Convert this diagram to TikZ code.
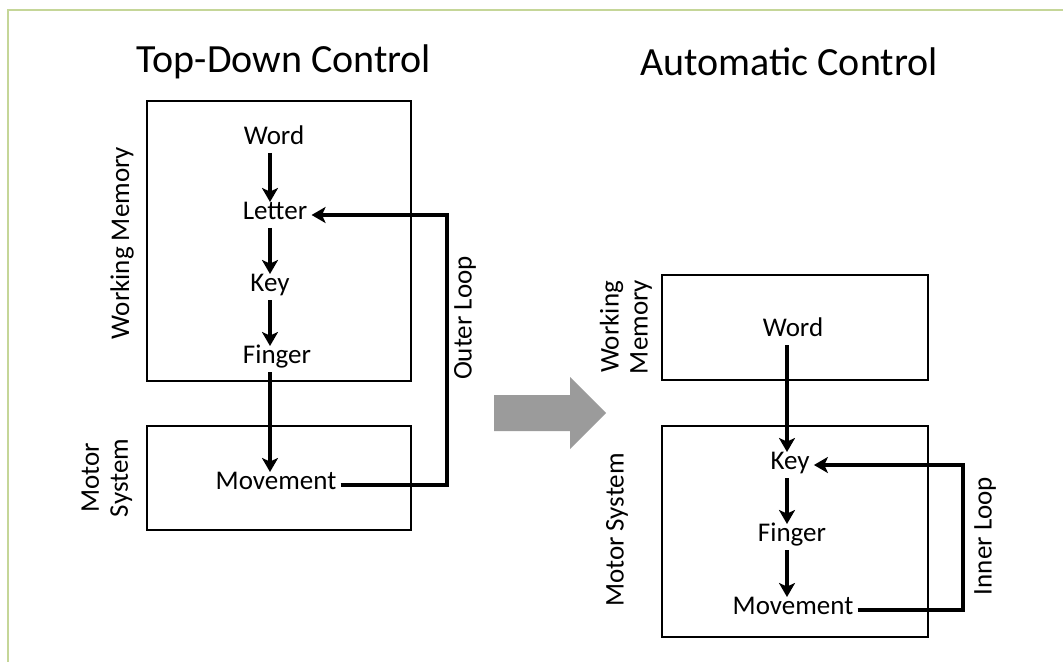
\documentclass[tikz,border=0pt]{standalone}
\usepackage{fontspec}
\setmainfont{Carlito}
\usetikzlibrary{arrows.meta}
\definecolor{framegreen}{RGB}{197,214,152}
\definecolor{shiftgray}{RGB}{155,155,155}
\begin{document}
\begin{tikzpicture}[x=.5pt, y=-.5pt, font=\fontsize{13.5}{14.5}\selectfont, line join=miter,
	>={Stealth[length=7pt,width=8pt,inset=1.8pt]},
	lbl/.style={inner sep=2pt, text height=.66em, text depth=.2em},
	side/.style={rotate=90, align=center, inner sep=0pt},
	flow/.style={->, line width=1.9pt},
	box/.style={line width=.85pt},
	title/.style={font=\fontsize{20}{22}\selectfont}]
	\useasboundingbox (0,0) rectangle (1063,662);
	\draw[framegreen, line width=1.3pt] (8,662)--(8,10)--(1063,10);
	% titles
	\node[title] (tdown) at (284,62) {Top-Down Control};
	\node[title] (tauto) at (789,62) {Automatic Control};
	% top-down side
	\draw[box] (147,101) rectangle (411,381) (147,426) rectangle (411,530);
	\node[side] (lwm) at (122,243) {Working Memory};
	\node[side] (lms) at (107,478) {Motor\\System};
	\node[lbl] (lword) at (274,140) {Word};
	\node[lbl] (lletter) at (275,215) {Letter};
	\node[lbl] (lkey) at (270,287) {Key};
	\node[lbl] (lfinger) at (277,359) {Finger};
	\node[lbl] (lmove) at (276,485) {Movement};
	\coordinate (lx) at (270,0);
	\coordinate (outer) at (447,0);
	\foreach \a/\b in {lword/lletter,lletter/lkey,lkey/lfinger,lfinger/lmove}
		\draw[flow] (\a.south -| lx)--(\b.north -| lx);
	\draw[flow] (lmove.east) -| (outer |- lletter.east) -- (lletter.east);
	\node[side] (oloop) at (465,318) {Outer Loop};
	% shift arrow
	\fill[shiftgray] (494,395)--(570,395)--(570,377)--(606,413)--(570,449)--(570,431)--(494,431)--cycle;
	% automatic side
	\draw[box] (662,275) rectangle (928,380) (662,426) rectangle (928,637);
	\node[side] (rwm) at (626,327) {Working\\Memory};
	\node[side] (rms) at (617,530) {Motor System};
	\node[lbl] (rword) at (793,332) {Word};
	\node[lbl] (rkey) at (790,465) {Key};
	\node[lbl] (rfinger) at (792,537) {Finger};
	\node[lbl] (rmove) at (793,610) {Movement};
	\coordinate (rx) at (787,0);
	\coordinate (inner) at (963,0);
	\foreach \a/\b in {rword/rkey,rkey/rfinger,rfinger/rmove}
		\draw[flow] (\a.south -| rx)--(\b.north -| rx);
	\draw[flow] (rmove.east) -| (inner |- rkey.east) -- (rkey.east);
	\node[side] (iloop) at (985,536) {Inner Loop};
\end{tikzpicture}
\end{document}
